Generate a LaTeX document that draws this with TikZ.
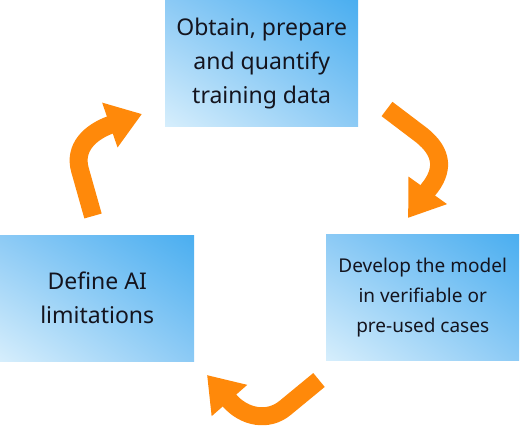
\documentclass[tikz,border=0pt]{standalone}
\usepackage{fontspec}
\setmainfont{Noto Sans}
\usetikzlibrary{arrows.meta,shadings}
\definecolor{bdark}{RGB}{74,174,240}
\definecolor{bmid}{RGB}{140,202,245}
\definecolor{blight}{RGB}{214,238,252}
\definecolor{arrorange}{RGB}{255,137,10}
\definecolor{txt}{RGB}{20,20,30}
\tikzset{
  stepbox/.style={rectangle, inner sep=0pt, anchor=north west, shade,
    upper right=bdark, upper left=bmid, lower right=bmid, lower left=blight,
    text=txt, align=center},
  cyclearrow/.style={draw=arrorange, line width=18pt,
    -{Triangle[width=45pt,length=34pt]}, line join=round},
}
\begin{document}
\begin{tikzpicture}[x=1pt,y=-1pt]
\useasboundingbox (0,0) rectangle (520,430);
\node[stepbox, minimum width=193pt, minimum height=126pt,
  font=\fontsize{23}{34}\selectfont] (top) at (165,0)
  {Obtain, prepare\\and quantify\\training data};
\node[stepbox, minimum width=194pt, minimum height=126pt,
  font=\fontsize{23}{34}\selectfont] (left) at (0,235)
  {Define AI\\limitations};
\node[stepbox, minimum width=193pt, minimum height=126pt,
  font=\fontsize{19}{30}\selectfont] (right) at (326,234)
  {Develop the model\\in verifiable or\\pre-used cases};
% arrows
\coordinate (a1s) at (93,216);
\coordinate (a1e) at (142,114);
\coordinate (a2s) at (387,109);
\coordinate (a2e) at (408,218);
\coordinate (a3s) at (319,380);
\coordinate (a3e) at (207,375);
\draw[cyclearrow] (a1s) -- (80,170) .. controls (73.5,147) and (91,132) .. (110,125) -- (a1e);
\draw[cyclearrow] (a2s) -- (420,134) .. controls (445,153) and (443,172) .. (428,190) -- (a2e);
\draw[cyclearrow] (a3s) -- (285,408) .. controls (268,422) and (244,417.5) .. (229,400) -- (a3e);
\end{tikzpicture}
\end{document}
